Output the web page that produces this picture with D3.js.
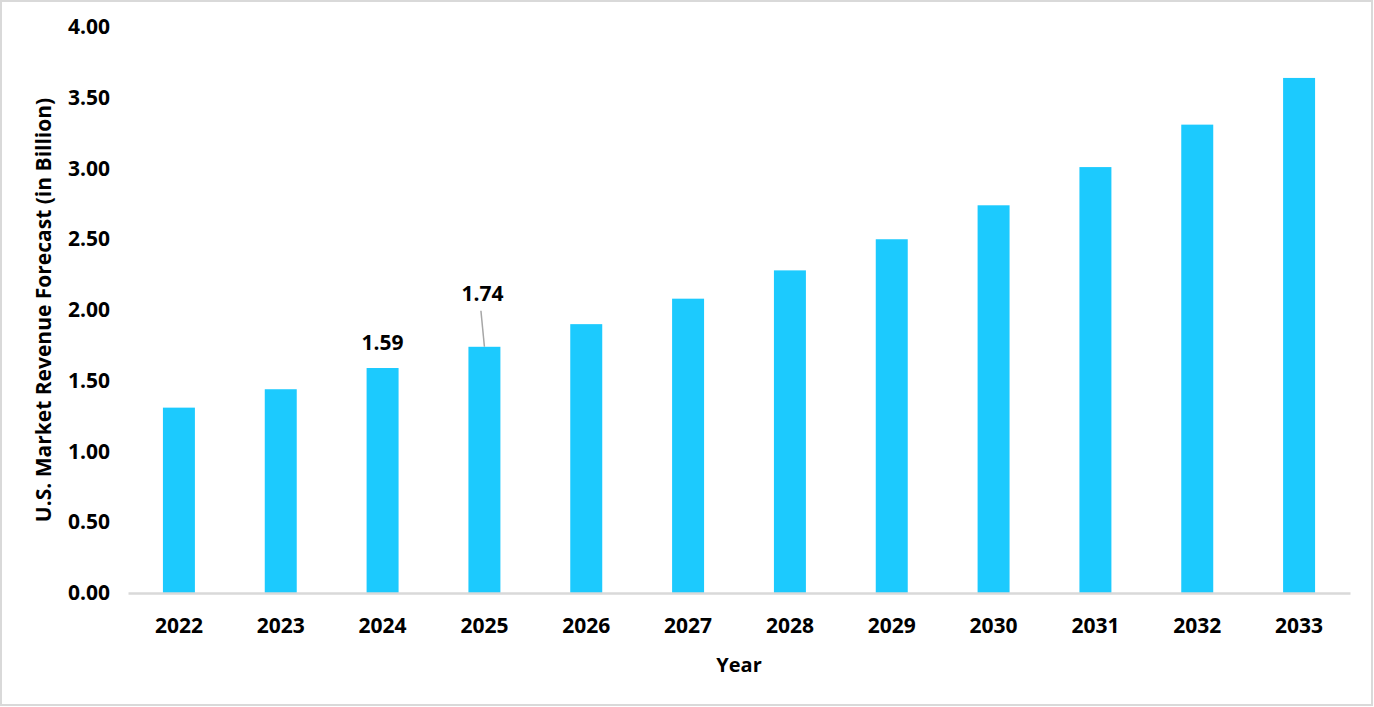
<!DOCTYPE html>
<html>
<head>
<meta charset="utf-8">
<script src="https://cdn.jsdelivr.net/npm/d3@7"></script>
<style>
  html, body { margin: 0; padding: 0; background: #fff; }
  svg { display: block; }
  text { font-family: "Open Sans", "Noto Sans", sans-serif; font-weight: bold; fill: #000; }
</style>
</head>
<body>
<svg id="chart" width="1374" height="707"></svg>
<script>
const years = ["2022","2023","2024","2025","2026","2027","2028","2029","2030","2031","2032","2033"];
const revenue = [1.31, 1.44, 1.59, 1.74, 1.90, 2.08, 2.28, 2.50, 2.74, 3.01, 3.31, 3.64];
const yTicks = [0, 0.5, 1.0, 1.5, 2.0, 2.5, 3.0, 3.5, 4.0];

const W = 1374, H = 707;
const margin = { left: 128, right: 24, top: 27, bottom: 114 };
const svg = d3.select("#chart");

svg.append("rect")
  .attr("x", 1).attr("y", 1).attr("width", W - 3).attr("height", H - 3)
  .attr("fill", "#fff").attr("stroke", "#d9d9d9").attr("stroke-width", 2);

const x = d3.scaleBand().domain(years).range([margin.left, W - margin.right]).paddingInner(0.686).paddingOuter(0.343);
const y = d3.scaleLinear().domain([0, 4]).range([H - margin.bottom, margin.top]);

// bars
svg.append("g").selectAll("rect")
  .data(years.map((yr, i) => ({ yr, v: revenue[i] })))
  .join("rect")
  .attr("x", d => x(d.yr))
  .attr("y", d => y(d.v))
  .attr("width", x.bandwidth())
  .attr("height", d => y(0) - y(d.v))
  .attr("fill", "#1ccafe");

// x axis
const xAxis = svg.append("g")
  .attr("transform", `translate(0,${y(0)})`)
  .call(d3.axisBottom(x).tickSize(0).tickPadding(25));
xAxis.select(".domain").attr("stroke", "#d9d9d9").attr("stroke-width", 2.5);
xAxis.selectAll("text").style("font-size", "21px").style("font-family", "'Open Sans', sans-serif").style("font-weight", "bold").attr("fill", "#000");

// y axis
const yAxis = svg.append("g")
  .attr("transform", `translate(${margin.left - 18},0)`)
  .call(d3.axisLeft(y).tickValues(yTicks).tickSize(0).tickPadding(0).tickFormat(d3.format(".2f")));
yAxis.select(".domain").remove();
yAxis.selectAll("text").style("font-size", "21px").style("font-family", "'Open Sans', sans-serif").style("font-weight", "bold").attr("fill", "#000");

// axis titles
svg.append("text")
  .attr("x", (margin.left + W - margin.right) / 2).attr("y", 672)
  .attr("text-anchor", "middle").style("font-size", "20px").text("Year");
svg.append("text")
  .attr("transform", `translate(51,${(y(0) + y(4)) / 2}) rotate(-90)`)
  .attr("text-anchor", "middle").style("font-size", "21px")
  .text("U.S. Market Revenue Forecast (in Billion)");

// data labels
const lab = svg.append("g");
const i24 = years.indexOf("2024");
lab.append("text")
  .attr("x", x("2024") + x.bandwidth() / 2).attr("y", y(revenue[i24]) - 18)
  .attr("text-anchor", "middle").style("font-size", "21px").text(revenue[i24].toFixed(2));
const i25 = years.indexOf("2025");
const cx25 = x("2025") + x.bandwidth() / 2;
lab.append("line")
  .attr("x1", cx25 - 3.5).attr("y1", y(revenue[i25]) - 36)
  .attr("x2", cx25).attr("y2", y(revenue[i25]))
  .attr("stroke", "#a6a6a6").attr("stroke-width", 1.5);
lab.append("text")
  .attr("x", cx25 - 2).attr("y", y(revenue[i25]) - 46)
  .attr("text-anchor", "middle").style("font-size", "21px").text(revenue[i25].toFixed(2));
</script>
</body>
</html>
